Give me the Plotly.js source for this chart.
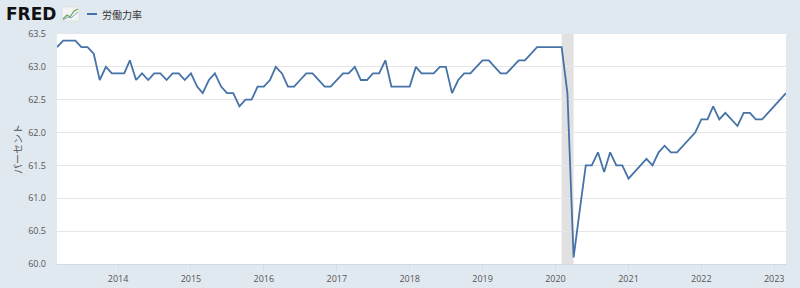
<!DOCTYPE html>
<html>
<head>
<meta charset="utf-8">
<script src="https://cdn.plot.ly/plotly-3.0.1.min.js"></script>
<style>
html,body{margin:0;padding:0;background:#e1e9f0;}
#chart{width:800px;height:288px;}
</style>
</head>
<body>
<div id="chart"></div>
<script>
// Monthly observations, Mar 2013 .. Mar 2023 (percent)
const startMonth = "2013-03-01";
const values = [
  // 2013 Mar-Dec
  63.3, 63.4, 63.4, 63.4, 63.3, 63.3, 63.2, 62.8, 63.0, 62.9,
  // 2014
  62.9, 62.9, 63.1, 62.8, 62.9, 62.8, 62.9, 62.9, 62.8, 62.9, 62.9, 62.8,
  // 2015
  62.9, 62.7, 62.6, 62.8, 62.9, 62.7, 62.6, 62.6, 62.4, 62.5, 62.5, 62.7,
  // 2016
  62.7, 62.8, 63.0, 62.9, 62.7, 62.7, 62.8, 62.9, 62.9, 62.8, 62.7, 62.7,
  // 2017
  62.8, 62.9, 62.9, 63.0, 62.8, 62.8, 62.9, 62.9, 63.1, 62.7, 62.7, 62.7,
  // 2018
  62.7, 63.0, 62.9, 62.9, 62.9, 63.0, 63.0, 62.6, 62.8, 62.9, 62.9, 63.0,
  // 2019
  63.1, 63.1, 63.0, 62.9, 62.9, 63.0, 63.1, 63.1, 63.2, 63.3, 63.3, 63.3,
  // 2020
  63.3, 63.3, 62.6, 60.1, 60.8, 61.5, 61.5, 61.7, 61.4, 61.7, 61.5, 61.5,
  // 2021
  61.3, 61.4, 61.5, 61.6, 61.5, 61.7, 61.8, 61.7, 61.7, 61.8, 61.9, 62.0,
  // 2022
  62.2, 62.2, 62.4, 62.2, 62.3, 62.2, 62.1, 62.3, 62.3, 62.2, 62.2, 62.3,
  // 2023 Jan-Mar
  62.4, 62.5, 62.6
];
const recessionStart = "2020-02-01";
const recessionEnd = "2020-04-01";
const seriesName = "労働力率";
const yTitle = "パーセント";
const yTickVals = [60.0, 60.5, 61.0, 61.5, 62.0, 62.5, 63.0, 63.5];
const xTickVals = ["2014-01-01","2015-01-01","2016-01-01","2017-01-01","2018-01-01","2019-01-01","2020-01-01","2021-01-01","2022-01-01","2023-01-01"];
const xTickText = ["2014","2015","2016","2017","2018","2019","2020","2021","2022","2023"];

// build date list from start month
const dates = [];
(function(){
  const p = startMonth.split("-");
  let y = +p[0], m = +p[1];
  for (let i = 0; i < values.length; i++) {
    dates.push(y + "-" + String(m).padStart(2, "0") + "-01");
    m++; if (m > 12) { m = 1; y++; }
  }
})();

const font = "Open Sans, Noto Sans CJK JP, sans-serif";

const trace = {
  x: dates, y: values, type: "scatter", mode: "lines", name: seriesName,
  line: {color: "#4572a7", width: 1.8}, showlegend: false, hoverinfo: "x+y"
};

const L = 57, R = 14, T = 34, B = 24, W = 800, H = 288;
const pw = W - L - R, ph = H - T - B;
function px2x(px){ return (px - L) / pw; }
function py2y(py){ return 1 - (py - T) / ph; }

const layout = {
  width: W, height: H,
  margin: {l: L, r: R, t: T, b: B, pad: 0},
  paper_bgcolor: "#e1e9f0",
  plot_bgcolor: "#ffffff",
  font: {family: font, size: 9, color: "#555555"},
  xaxis: {
    type: "date",
    range: [dates[0], dates[dates.length - 1]],
    tickvals: xTickVals, ticktext: xTickText,
    ticks: "outside", ticklen: 6, tickcolor: "#d6dde4", tickwidth: 1,
    showgrid: false, zeroline: false,
    showline: true, linecolor: "#d0d8e0", linewidth: 1,
    tickfont: {family: font, size: 9, color: "#555555"},
    fixedrange: true
  },
  yaxis: {
    range: [60.0, 63.5],
    tickvals: yTickVals, tickformat: ".1f",
    showgrid: true, gridcolor: "#e6e6e6", gridwidth: 1,
    zeroline: false, showline: false, ticks: "",
    ticklabelstandoff: 10,
    tickfont: {family: font, size: 9, color: "#555555"},
    title: {text: yTitle, font: {family: font, size: 10, color: "#555555"}, standoff: 3},
    fixedrange: true
  },
  shapes: [
    {type: "rect", xref: "x", yref: "paper", x0: recessionStart, x1: recessionEnd, y0: 0, y1: 1,
     fillcolor: "#e1e1e1", line: {width: 0}, layer: "below"},
    // legend line sample
    {type: "line", xref: "paper", yref: "paper", x0: px2x(87), x1: px2x(97), y0: py2y(14), y1: py2y(14),
     line: {color: "#4572a7", width: 2}},
    // FRED logo icon
    {type: "rect", xref: "paper", yref: "paper", x0: px2x(62), x1: px2x(79), y0: py2y(21), y1: py2y(7),
     fillcolor: "#f2f4f3", line: {color: "#cfd6d2", width: 0.5}},
    {type: "path", xref: "paper", yref: "paper",
     path: "M " + px2x(63) + "," + py2y(19) + " L " + px2x(67) + "," + py2y(15) + " L " + px2x(70) + "," + py2y(17) + " L " + px2x(74) + "," + py2y(11) + " L " + px2x(78) + "," + py2y(9),
     line: {color: "#6aa84f", width: 1.2}},
    {type: "path", xref: "paper", yref: "paper",
     path: "M " + px2x(63) + "," + py2y(20) + " L " + px2x(68) + "," + py2y(17) + " L " + px2x(71) + "," + py2y(18) + " L " + px2x(78) + "," + py2y(12),
     line: {color: "#7fa6c9", width: 1}}
  ],
  annotations: [
    {xref: "paper", yref: "paper", x: px2x(4), y: py2y(14), xanchor: "left", yanchor: "middle",
     text: "<b>FRED</b>", showarrow: false,
     font: {family: "DejaVu Sans, Liberation Sans, sans-serif", size: 17, color: "#111111"}},
    {xref: "paper", yref: "paper", x: px2x(100), y: py2y(14), xanchor: "left", yanchor: "middle",
     text: seriesName, showarrow: false,
     font: {family: "Noto Sans CJK JP, sans-serif", size: 10, color: "#333333"}}
  ]
};

Plotly.newPlot("chart", [trace], layout, {displayModeBar: false, staticPlot: true});
</script>
</body>
</html>
